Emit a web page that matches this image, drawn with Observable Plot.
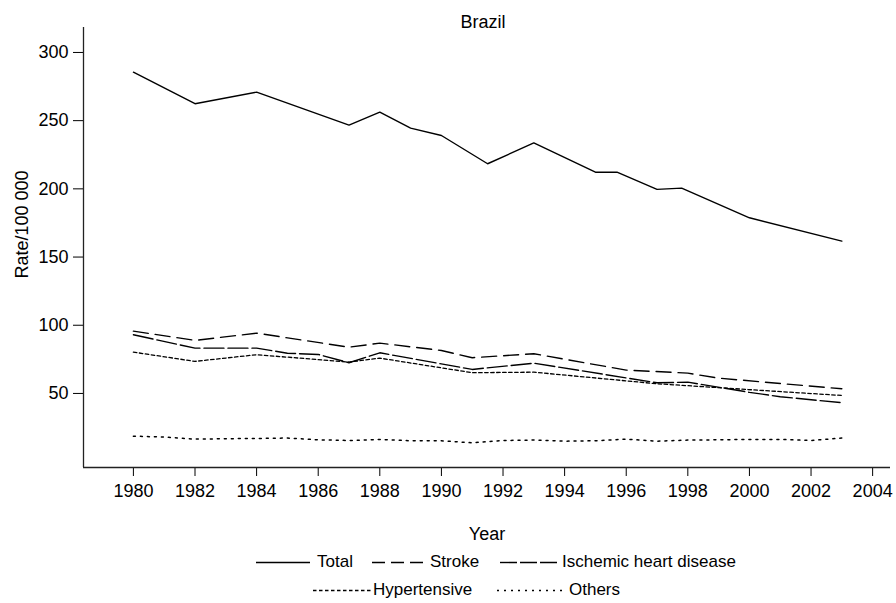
<!DOCTYPE html>
<html>
<head>
<meta charset="utf-8">
<script src="https://cdn.jsdelivr.net/npm/d3@7"></script>
<script src="https://cdn.jsdelivr.net/npm/@observablehq/plot@0.6"></script>
<style>
  html, body { margin: 0; padding: 0; background: #fff; }
  #wrap { position: relative; width: 896px; height: 603px; font-family: "Liberation Sans", Arial, sans-serif; color: #000; }
  #wrap svg.chart { position: absolute; left: 0; top: 0; }
  .leg { position: absolute; font-size: 17px; line-height: 20px; white-space: nowrap; }
  .legkey { position: absolute; }
</style>
</head>
<body>
<div id="wrap"></div>
<script>
// ---- data ----
const chartTitle = "Brazil";
const xLabel = "Year";
const yLabel = "Rate/100 000";
const xTicks = [1980, 1982, 1984, 1986, 1988, 1990, 1992, 1994, 1996, 1998, 2000, 2002, 2004];
const yTicks = [50, 100, 150, 200, 250, 300];

const seriesNames = ["Total", "Stroke", "Ischemic heart disease", "Hypertensive", "Others"];

const totalYears  = [1980, 1982, 1984, 1987, 1988, 1989, 1990, 1991.5, 1993, 1995, 1995.7, 1997, 1997.8, 2000, 2003];
const totalValues = [285.5, 262.4, 270.9, 246.7, 256.2, 244.5, 239.1, 218.4, 233.7, 212.2, 212.2, 199.6, 200.5, 178.8, 161.7];

const strokeYears  = [1980, 1982, 1984, 1987, 1988, 1990, 1991, 1993, 1996, 1998, 1999, 2003];
const strokeValues = [95.7, 88.9, 94.2, 83.9, 86.9, 81.5, 76.2, 79.1, 67.1, 64.9, 61.2, 53.4];

const ihdYears  = [1980, 1982, 1984, 1985, 1986, 1987, 1988, 1991, 1993, 1997, 1998, 2000, 2001, 2003];
const ihdValues = [93.0, 83.2, 83.2, 79.5, 78.6, 72.5, 79.8, 67.6, 72.2, 57.8, 58.3, 50.8, 47.6, 43.2];

const hyperYears  = [1980, 1982, 1984, 1987, 1988, 1991, 1993, 1997, 2003];
const hyperValues = [80.3, 73.5, 78.4, 73.0, 75.9, 65.2, 65.6, 57.1, 48.5];

const otherYears  = [1980, 1981, 1982, 1983, 1984, 1985, 1986, 1987, 1988, 1989, 1990, 1991, 1992, 1993, 1994, 1995, 1996, 1997, 1998, 1999, 2000, 2001, 2002, 2003];
const otherValues = [18.7, 18.0, 16.5, 16.8, 17.0, 17.3, 16.0, 15.5, 16.3, 15.3, 15.3, 13.8, 15.5, 15.8, 15.0, 15.3, 16.5, 15.0, 15.8, 16.0, 16.3, 16.3, 15.5, 17.3];

// ---- styles (not data) ----
const dashes = [null, "15,7", "20,4", "3.5,2.5", "2,5"];
const widths = [1.4, 1.4, 1.4, 1.3, 1.5];
const legendDashes = [null, "13,6", "17,3", "3.5,2.5", "2,5"];
const legendLayout = [
  {key: [256, 310], text: 317, top: 552},
  {key: [372, 423], text: 430, top: 552},
  {key: [500, 558], text: 562, top: 552},
  {key: [313, 372], text: 373, top: 580},
  {key: [497, 563], text: 569, top: 580}
];

const zip = (xs, ys, name) => xs.map((x, i) => ({year: x, value: ys[i], series: name}));
const seriesData = [
  zip(totalYears, totalValues, seriesNames[0]),
  zip(strokeYears, strokeValues, seriesNames[1]),
  zip(ihdYears, ihdValues, seriesNames[2]),
  zip(hyperYears, hyperValues, seriesNames[3]),
  zip(otherYears, otherValues, seriesNames[4])
];

const xDomain = [1978.38, 2004.58];
const yDomain = [-4.3, 318.3];
const H = 545;

const chart = Plot.plot({
  width: 896,
  height: H,
  marginLeft: 83,
  marginRight: 6,
  marginTop: 27,
  marginBottom: H - 467,
  style: {fontFamily: '"Liberation Sans", Arial, sans-serif', fontSize: "18px", color: "#000", background: "#fff", overflow: "visible"},
  x: {domain: xDomain, ticks: xTicks, tickFormat: d => String(d), tickSize: 9, tickPadding: 8, label: xLabel, labelAnchor: "center", labelOffset: 72, labelArrow: "none"},
  y: {domain: yDomain, ticks: yTicks, tickSize: 10, tickPadding: 5, label: null},
  marks: [
    Plot.ruleX([xDomain[0]], {stroke: "#222", strokeWidth: 1.3}),
    Plot.ruleY([yDomain[0]], {stroke: "#222", strokeWidth: 1.3}),
    ...seriesData.map((d, i) => Plot.line(d, {
      x: "year", y: "value", stroke: "#000", strokeWidth: widths[i],
      strokeDasharray: dashes[i] || undefined
    })),
    Plot.text([chartTitle], {text: d => d, frameAnchor: "top", lineAnchor: "bottom", dx: -4, dy: 0, fontSize: 18}),
    Plot.text([yLabel], {text: d => d, frameAnchor: "left", textAnchor: "middle", lineAnchor: "middle", rotate: -90, dx: -61, dy: -23, fontSize: 18})
  ]
});
chart.classList.add("chart");
const wrap = document.getElementById("wrap");
wrap.appendChild(chart);

// legend below the plot
seriesNames.forEach((name, i) => {
  const L = legendLayout[i];
  const w = L.key[1] - L.key[0];
  const ns = "http://www.w3.org/2000/svg";
  const svg = document.createElementNS(ns, "svg");
  svg.setAttribute("width", w);
  svg.setAttribute("height", 20);
  svg.setAttribute("class", "legkey");
  svg.style.left = L.key[0] + "px";
  svg.style.top = L.top + "px";
  const line = document.createElementNS(ns, "line");
  line.setAttribute("x1", 0); line.setAttribute("x2", w);
  line.setAttribute("y1", 10.5); line.setAttribute("y2", 10.5);
  line.setAttribute("stroke", "#000");
  line.setAttribute("stroke-width", widths[i]);
  if (legendDashes[i]) line.setAttribute("stroke-dasharray", legendDashes[i]);
  svg.appendChild(line);
  wrap.appendChild(svg);
  const t = document.createElement("div");
  t.className = "leg";
  t.textContent = name;
  t.style.left = L.text + "px";
  t.style.top = L.top + "px";
  wrap.appendChild(t);
});
</script>
</body>
</html>
